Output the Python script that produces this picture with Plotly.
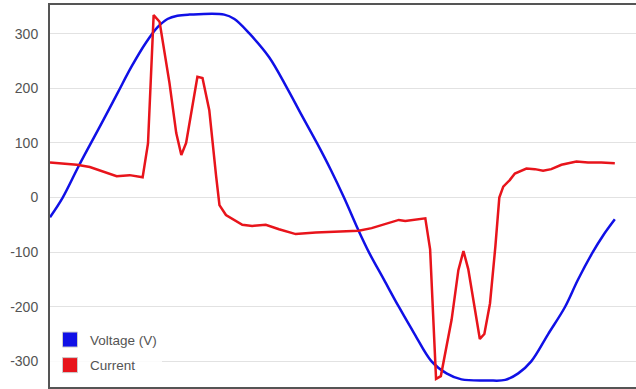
import plotly.graph_objects as go

# Time axis (ms) and values
voltage_t = [0.00, 0.45, 0.99, 1.41, 1.91, 2.40, 2.89, 3.39, 3.81, 4.16, 4.51, 4.94, 6.17,
             6.53, 7.05, 7.76, 8.40, 8.92, 9.45, 9.95, 10.41, 10.93, 11.29, 11.82, 12.35,
             12.91, 13.51, 14.04, 14.57, 15.52, 16.12, 16.58, 17.04, 17.64, 18.24, 18.69,
             19.22, 19.58, 20.00]
voltage_v = [-36, 0, 55, 96, 144, 192, 240, 283, 312, 327, 333, 335, 335,
             327, 301, 257, 200, 150, 100, 50, 0, -61, -100, -150, -200,
             -250, -300, -322, -333, -335, -334, -322, -300, -250, -200, -151,
             -100, -70, -40]

current_t = [0.00, 0.95, 1.41, 2.36, 2.82, 3.28, 3.47, 3.67, 3.88, 4.23, 4.47, 4.65, 4.82,
             5.22, 5.40, 5.64, 5.88, 6.00, 6.23, 6.81, 7.16, 7.64, 8.11, 8.70, 9.41,
             10.23, 10.93, 11.39, 11.88, 12.35, 12.58, 13.29, 13.46, 13.67, 13.84, 14.22,
             14.46, 14.64, 14.81, 15.22, 15.38, 15.58, 15.77, 15.91, 16.05, 16.28, 16.46,
             16.87, 17.17, 17.46, 17.75, 18.11, 18.64, 19.05, 19.52, 20.00]
current_v = [64, 60, 56, 39, 41, 37, 99, 334, 322, 210, 118, 78, 100,
             221, 219, 160, 40, -14, -32, -50, -52, -50, -58, -67, -64,
             -63, -61, -56, -49, -41, -43, -38, -95, -332, -327, -224,
             -133, -98, -131, -259, -250, -194, -90, 0, 20, 32, 44,
             53, 52, 49, 52, 60, 66, 64, 64, 63]

y_ticks = [-300, -200, -100, 0, 100, 200, 300]

BLUE = "#1010e6"
RED = "#e8141b"
TXT = "#545454"

fig = go.Figure()
fig.add_trace(go.Scatter(x=voltage_t, y=voltage_v, mode="lines", name="Voltage (V)",
                         line=dict(color=BLUE, width=2.5, shape="spline", smoothing=1.0),
                         showlegend=False, hoverinfo="skip"))
fig.add_trace(go.Scatter(x=current_t, y=current_v, mode="lines", name="Current",
                         line=dict(color=RED, width=2.5),
                         showlegend=False, hoverinfo="skip"))
# legend entries with box swatches
fig.add_trace(go.Scatter(x=[None], y=[None], mode="markers", name="Voltage (V)",
                         legendgroup="v",
                         marker=dict(symbol="square", size=15, color=BLUE,
                                     line=dict(color="#cccccc", width=1))))
fig.add_trace(go.Scatter(x=[None], y=[None], mode="markers", name="Current",
                         legendgroup="c",
                         marker=dict(symbol="square", size=15, color=RED,
                                     line=dict(color="#cccccc", width=1))))

fig.update_layout(
    width=636, height=389,
    margin=dict(l=50, r=0, t=5, b=2),
    paper_bgcolor="white", plot_bgcolor="white",
    font=dict(family="Liberation Sans, Arial, sans-serif", size=12, color=TXT),
    showlegend=True,
    legend=dict(x=0.0, y=0.015, xanchor="left", yanchor="bottom",
                bgcolor="rgba(255,255,255,0.85)", borderwidth=0,
                font=dict(size=13.5, color=TXT), tracegroupgap=5,
                itemwidth=30),
    xaxis=dict(range=[0, 20.75], showgrid=False, zeroline=False, showticklabels=False,
               ticks="", showline=True, linecolor="#555555", linewidth=2, mirror=True,
               automargin=False),
    yaxis=dict(range=[-347, 352.6], tickvals=y_ticks, ticktext=[str(v) for v in y_ticks],
               showgrid=True, gridcolor="#e2e2e2", gridwidth=1, zeroline=False,
               showline=True, linecolor="#555555", linewidth=2, ticks="",
               ticklabelstandoff=7, tickfont=dict(size=14, color=TXT), automargin=False),
)

fig.write_html("out.html", config={"displayModeBar": False},
               post_script="document.body.style.margin='0';document.body.style.overflow='hidden';")
